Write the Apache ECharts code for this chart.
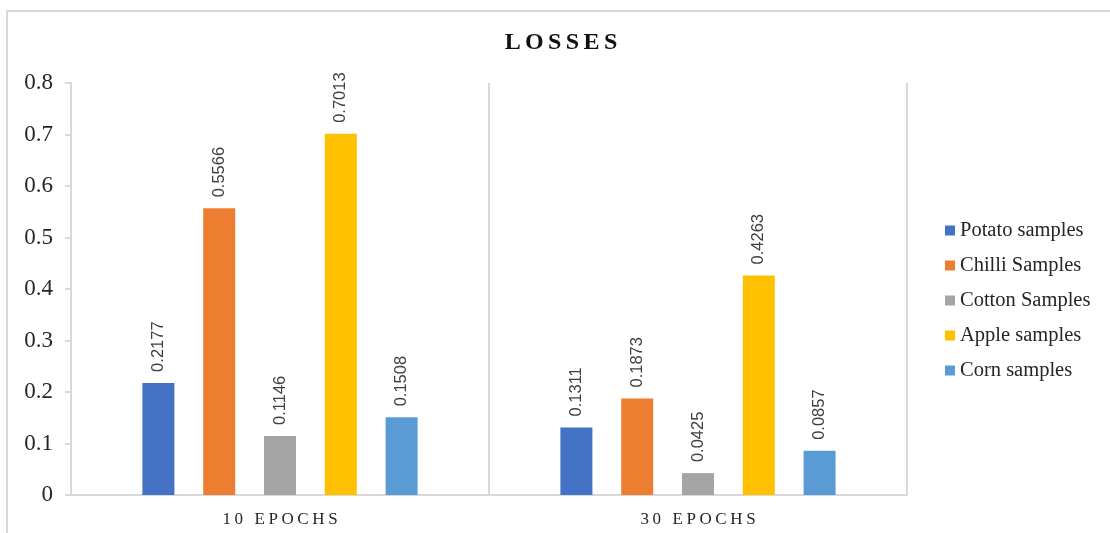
<!DOCTYPE html>
<html>
<head>
<meta charset="utf-8">
<script src="https://cdn.jsdelivr.net/npm/echarts@6/dist/echarts.min.js"></script>
<style>
html,body{margin:0;padding:0;background:#fff;}
#chart{width:1110px;height:533px;}
</style>
</head>
<body>
<div id="chart"></div>
<script>
const titleText = 'LOSSES';
const categories = ['10 EPOCHS', '30 EPOCHS'];
const seriesNames = ['Potato samples', 'Chilli Samples', 'Cotton Samples', 'Apple samples', 'Corn samples'];
const potato = [0.2177, 0.1311];
const chilli = [0.5566, 0.1873];
const cotton = [0.1146, 0.0425];
const apple = [0.7013, 0.4263];
const corn = [0.1508, 0.0857];
const colors = ['#4472C4', '#ED7D31', '#A5A5A5', '#FFC000', '#5B9BD5'];
const values = [potato, chilli, cotton, apple, corn];

const chart = echarts.init(document.getElementById('chart'), null, {renderer: 'canvas'});
const serif = '"Liberation Serif", "Times New Roman", serif';

// spread characters apart (letter spacing) using rich text segments
function spaced(str, key) {
  return str.split('').map(c => '{' + key + '|' + c + '}').join('');
}

const option = {
  animation: false,
  color: colors,
  title: {
    text: spaced(titleText, 't'),
    left: 556,
    textAlign: 'center',
    top: 26,
    textStyle: {
      rich: {
        t: {fontFamily: serif, fontWeight: 'bold', fontSize: 24, color: '#111', padding: [0, 2.2, 0, 2.2]}
      }
    }
  },
  graphic: [{
    type: 'rect',
    shape: {x: 7, y: 11, width: 1120, height: 540},
    style: {fill: 'none', stroke: '#d9d9d9', lineWidth: 2},
    silent: true, z: -1
  }],
  legend: {
    orient: 'vertical',
    left: 940,
    top: 215,
    itemWidth: 10,
    itemHeight: 10,
    itemGap: 14,
    icon: 'rect',
    textStyle: {fontFamily: serif, fontSize: 20.5, color: '#262626', lineHeight: 20.5},
    data: seriesNames
  },
  grid: {left: 71, right: 203, top: 83, bottom: 38, containLabel: false},
  xAxis: {
    type: 'category',
    data: categories,
    axisLine: {show: true, lineStyle: {color: '#d9d9d9', width: 2}},
    axisTick: {show: false},
    splitLine: {show: true, lineStyle: {color: '#d9d9d9', width: 2}},
    axisLabel: {
      margin: 16,
      formatter: (v) => spaced(v, 'x'),
      rich: {
        x: {fontFamily: serif, fontSize: 17, color: '#262626', padding: [0, 1.8, 0, 1.8]}
      }
    }
  },
  yAxis: {
    type: 'value',
    min: 0, max: 0.8, interval: 0.1,
    axisLine: {show: true, lineStyle: {color: '#d9d9d9', width: 2}},
    axisTick: {show: true, length: 6, lineStyle: {color: '#d9d9d9', width: 2}},
    splitLine: {show: false},
    axisLabel: {fontFamily: serif, fontSize: 23, color: '#262626', margin: 18}
  },
  series: seriesNames.map((name, i) => ({
    name: name,
    type: 'bar',
    data: values[i],
    barWidth: 32,
    barGap: '90%',
    itemStyle: {color: colors[i]},
    label: {
      show: true,
      position: 'top',
      rotate: 90,
      align: 'left',
      verticalAlign: 'middle',
      distance: 11,
      fontFamily: '"Liberation Sans", Arial, sans-serif',
      fontSize: 16.5,
      color: '#404040',
      formatter: (p) => p.value.toFixed(4)
    }
  }))
};
chart.setOption(option);
</script>
</body>
</html>
